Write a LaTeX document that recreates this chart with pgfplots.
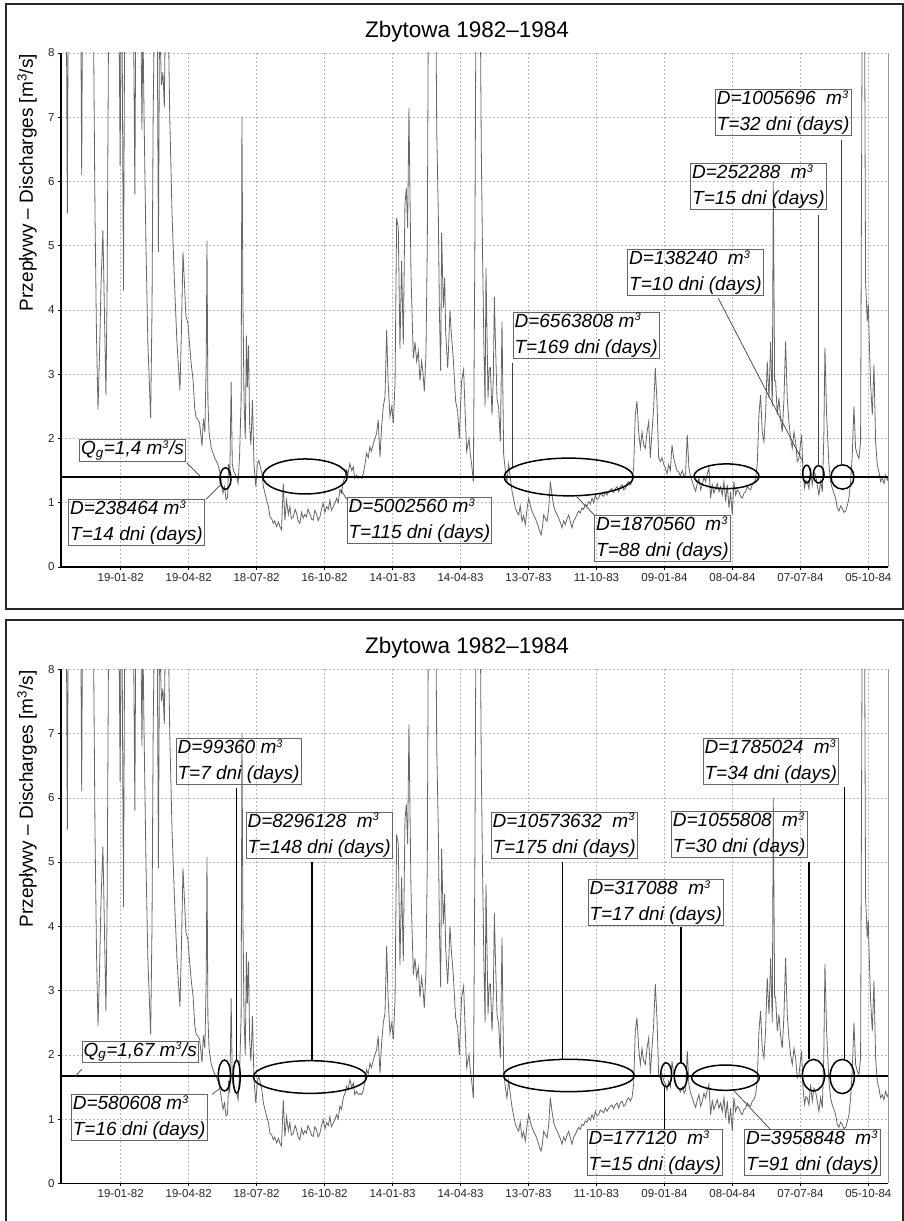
\documentclass[border=0pt]{standalone}
\usepackage{fontspec}
\setmainfont{Liberation Sans}
\usepackage{pgfplots}
\pgfplotsset{compat=1.18}
\usepackage{pgfplotstable}
\usetikzlibrary{shapes.geometric}

% Daily discharge, hydrological years 1982-1984 (day 0 = 1 Nov 1981), m3/s
\pgfplotstableread{
day q
0 12
3 10
7 9
8.4 5.5
9.6 9
14 11
20 10
26 9
27.4 6.1
28.6 9
34 12
40 10
43 8.5
45 5.5
47 3.6
49 2.45
51 3.3
53 4.4
55.5 5.24
57 4.3
59.5 2.68
61 4.2
63 8.5
68 11
75 9
77 8.4
78.3 6.25
79.5 8.6
81 8.2
82.7 4.3
84.5 9
90 11
96 8.6
97.8 5.8
99 8.6
103 10
106 8.3
107.2 6.8
108.4 8.5
110 7
112.5 5
115 3.5
118.7 2.32
120.5 4
122 7
124 9
127 9.5
129 4.9
130.5 8.6
133 7.5
135 7.7
136.8 7.15
138.5 9
141.5 9
144 7
147 5.5
150 4.5
153.5 3.5
157.5 2.75
159.5 3.7
161.5 4.9
163.5 4.4
165.5 3.9
168 3.8
170 3.5
172.5 3.15
175 2.9
177 2.47
179 2.32
181 2.3
183.5 2.24
186.7 1.88
188.5 2.3
190.5 2.1
192.3 3.2
193.3 5.08
194.5 2.6
196 2.1
199 1.85
203.4 1.7
207 1.62
210 1.5
212.3 1.33
214.5 1.15
216.5 1.25
218.5 1.05
220.5 1.08
222 1.6
223.5 1.4
225.3 2.88
226.8 1.6
228.5 1.5
230.5 1.45
233 1.38
234.5 1.3
236.5 1.75
238.5 2.6
239.6 7.0
240.8 4.3
242.3 2.6
244 2.0
245.5 3.6
246.8 2.8
248.3 3.45
249.8 2.2
251.5 1.9
253.5 2.6
255.5 1.6
258 1.25
260 1.6
262 1.66
264 1.56
266 1.45
268 1.25
270 1.15
272.3 1.04
274.5 0.95
276.7 0.78
279 0.75
281 0.68
283 0.72
285.5 0.63
288 0.70
290 0.62
292 0.58
294.3 1.3
296.5 0.73
298.7 1.04
301 0.82
303 0.94
305 0.75
307.5 0.78
310 0.9
312 0.83
314 0.72
316.3 0.68
318.5 0.85
320.7 0.76
323 0.82
325 0.78
327 0.9
329.5 0.83
332 0.74
334 0.73
336 0.88
338.3 0.83
340.5 0.72
342.8 0.78
345 0.9
347.2 0.99
349.5 0.85
351.6 0.94
354 0.9
356 1.04
358 0.88
360.5 0.94
363 1.0
364.9 1.07
367 1.0
369.3 1.2
371.5 1.15
373.7 1.33
376 1.4
378 1.51
380 1.45
382.5 1.61
385 1.5
387 1.56
389 1.38
391.3 1.43
393.5 1.38
395.7 1.4
398 1.38
400.2 1.45
402.5 1.6
404.6 1.77
406.8 1.7
409 1.87
411 1.8
413.5 1.92
415.7 2.0
417.9 2.08
420 2.29
422.4 1.71
424.6 2.2
426.8 2.5
429 2.65
431.2 3.69
433 2.9
435.6 2.34
438 2.5
440 2.24
442.3 2.86
444.4 5.43
446.6 5.28
448.8 3.4
451 4.76
453.2 3.46
455.4 5.64
457.2 5.9
459 5.28
460.7 7.14
463.4 4.55
466.5 3.25
468.7 3.5
470.9 3.2
473.1 3.36
475.3 2.9
477.5 3.2
479.5 3.0
481 2.73
483.2 3.3
485 5
486.5 9
491 11
495.2 9
496.5 8.5
497.5 6.78
499.6 5.48
501 4.0
502.7 3.05
504 5.2
506.2 4.03
508 4.5
509.3 3.67
512 3.1
513.5 3.5
515 4.0
517 3.6
519.4 3.25
521 2.9
522.5 2.58
525.2 2.42
527.4 2.0
529 2.5
530.5 2.9
533.1 3.07
534.9 2.47
537.1 1.8
540.2 2.0
542 1.75
543.7 1.6
546 1.33
548 5
549.5 9
553 10
555 9
556.5 6.5
558 5.0
560 3.4
561.5 2.5
562.7 4.65
565.4 2.63
567 3.1
568.5 3.1
570.7 2.37
572.5 3.0
573.8 4.2
575 3.6
577.3 2.63
579.5 2.47
581.7 1.95
583.9 3.82
586.1 1.75
588.3 1.5
590.5 1.33
592.7 1.6
595 1.38
597.2 1.18
599.4 1.05
601.6 0.92
604 0.85
606 0.81
608 0.95
610.4 0.71
612.5 0.8
614.8 0.66
617 0.9
619.2 1.07
621.5 0.95
623.6 0.87
626 0.8
628 0.76
630.5 0.68
632.5 0.61
634 0.55
635.6 0.5
637.5 0.62
639.1 0.81
641.5 0.75
643.5 0.71
645.7 0.9
647.9 1.33
650.1 1.12
652.3 0.95
654.5 0.87
656.7 0.82
658.9 0.76
661 0.7
663.4 0.61
665.6 0.72
667.8 0.66
670 0.75
672.2 0.81
674.4 0.7
676.6 0.61
678.8 0.72
681 0.76
683.2 0.82
685.4 0.87
687.6 0.84
689.8 0.92
692 0.9
694.2 0.97
696.5 0.95
698.7 1.02
701 0.98
703.1 1.07
705.3 1.0
707.5 1.12
709.7 1.05
711.9 1.07
714 1.14
716.3 1.12
718.5 1.1
720.7 1.17
722.9 1.12
725.1 1.17
727.3 1.2
729.5 1.22
731.7 1.16
733.9 1.22
736.2 1.25
738.4 1.17
740.6 1.25
742.8 1.28
745 1.2
747.2 1.22
749.4 1.3
751.6 1.33
753.8 1.28
756 1.33
758.2 1.54
760.4 2.37
762.6 2.58
764.9 2.1
767.1 1.85
769.3 2.1
771.5 1.9
773.7 1.85
775.9 2.1
778.1 2.26
780.3 1.7
782.5 2.1
784.7 2.47
786.9 3.1
789.1 2.58
791.3 1.7
793.6 1.64
795.8 1.7
798 1.6
800.2 1.54
802.4 1.45
804.6 1.59
806.8 1.5
809 1.9
811.2 1.7
813.4 1.59
815.6 1.5
817.8 1.48
820 1.42
822.6 1.5
825 1.4
827 1.45
829.2 2.06
831.4 1.54
833.6 1.4
835.9 1.33
838 1.25
840.3 1.18
842.5 1.3
844.7 1.38
847 1.2
849.1 1.28
851.3 1.4
853.5 1.33
855.7 1.45
857.9 1.54
860.1 1.07
862.3 1.28
864.5 1.15
866.7 1.22
869 1.3
871.2 1.17
873.4 1.25
875.6 1.12
877.8 1.33
880 1.02
882.2 1.28
884.4 0.92
886.6 1.17
888.8 0.81
891 1.33
893.2 1.12
895.4 1.2
897.6 1.17
899.8 1.1
902 1.07
904.3 1.15
906.5 1.17
908.7 1.25
910.9 1.22
913.1 1.2
915.3 1.28
917.5 1.3
919.7 1.38
921.9 1.6
924.1 2.37
926.3 2.68
928.5 2.1
930.7 1.95
932.9 2.37
935.1 3.2
937.4 2.63
939.6 3.5
941.8 2.5
943.1 6.0
944.9 2.9
946.2 2.89
948.4 2.37
950.6 2.63
952.8 2.3
955 2.1
957.2 2.6
959.4 3.51
961.6 2.63
963.8 2.26
966 2.0
968.2 1.85
970.5 2.1
972.7 1.95
974.9 1.64
977.1 1.69
979 1.9
980.6 2.06
982.4 1.48
984.6 1.23
986.3 1.35
988.1 1.33
990.3 1.22
992.5 1.54
994.7 1.28
996.9 1.48
999.1 1.43
1001.3 1.28
1003.5 1.12
1005.8 1.33
1008 1.17
1010 2.0
1011.5 3.41
1013.7 2.37
1016.8 1.59
1019 1.33
1021.2 1.22
1023.4 1.15
1025.6 1.07
1027.8 0.92
1030 0.87
1032.2 0.95
1034.4 0.92
1036.6 0.85
1038.9 0.87
1041 0.95
1043.3 1.07
1045.5 1.33
1047.7 1.75
1049.9 2.5
1052.1 1.85
1054.3 1.75
1056.5 1.69
1058.7 1.95
1060.9 9
1062.2 11
1064 8.5
1065.3 4.45
1067.5 3.82
1068.9 4.1
1069.8 3.67
1072 2.84
1074.2 2.37
1076.4 3.15
1078.6 1.95
1080.8 1.59
1083 1.48
1085.2 1.33
1087.4 1.38
1089.6 1.3
1091.8 1.43
1094 1.35
1095 1.38
}\flow

% small raised "3" as in m^3
\newcommand{\cub}{\textsuperscript{\fontsize{11}{11}\selectfont 3}}

\pgfplotsset{
  hydro/.style={
    scale only axis, width=827pt, height=514pt,
    xmin=0, xmax=1095, ymin=0, ymax=8,
    axis x line*=bottom, axis y line*=left,
    xtick={79,169,259,349,439,529,619,709,799,889,979,1069},
    xticklabels={19-01-82,19-04-82,18-07-82,16-10-82,14-01-83,14-04-83,13-07-83,11-10-83,09-01-84,08-04-84,07-07-84,05-10-84},
    ytick={0,1,...,8},
    tick align=outside, major tick length=3pt,
    tick style={black, line width=0.6pt},
    x axis line style={black, line width=1.2pt, -},
    y axis line style={black, line width=1.2pt, -},
    grid=major,
    major grid style={gray!55, line width=0.5pt, dash pattern=on 2pt off 2pt},
    ticklabel style={font=\fontsize{11.5}{13}\selectfont, text=black!85},
    /pgf/number format/assume math mode=true,
    clip mode=individual,
    every axis title/.style={at={(axis description cs:0.491,1.030)}, anchor=base,
      font=\fontsize{22.5}{27}\selectfont},
    every axis y label/.style={at={(axis description cs:-0.0411,0.748)}, rotate=90,
      anchor=center, font=\fontsize{19}{22}\selectfont},
    title={Zbytowa 1982–1984},
    ylabel={Przepływy – Discharges [m\textsuperscript{3}/s]},
  },
  flowline/.style={black!60, line width=0.8pt},
  qline/.style={black, line width=1.9pt},
}
\tikzset{
  box/.style={draw=black!60, line width=0.8pt, inner xsep=1.5pt, inner ysep=1pt,
    align=left, anchor=north west, font=\fontsize{19}{26}\selectfont\itshape},
  dry/.style={draw=black, ellipse, inner sep=0pt, line width=1.5pt},
  leadA/.style={black!75, line width=0.7pt},
  leadB/.style={black, line width=1.4pt},
}

\begin{document}
\begin{tikzpicture}
\path[fill=white, use as bounding box] (0pt,0pt) rectangle (904pt,1221pt);

% ---------- upper chart: threshold 1.4 m3/s ----------
\begin{axis}[hydro, at={(61pt,654pt)}, anchor=south west]
\addplot[flowline] table[x=day, y=q] {\flow};
\addplot[qline] coordinates {(0,1.4) (1095,1.4)};
\draw[gray!80, line width=0.6pt] (rel axis cs:1,0) -- (rel axis cs:1,1);

\node[dry, minimum width=11pt,    minimum height=21.6pt] at (axis cs:217.8,1.377) {};
\node[dry, minimum width=84.6pt,  minimum height=35pt]   at (axis cs:323.1,1.409) {};
\node[dry, minimum width=129.3pt, minimum height=37.7pt] at (axis cs:672.2,1.401) {};
\node[dry, minimum width=65pt,    minimum height=24.7pt] at (axis cs:881.2,1.412) {};
\node[dry, minimum width=8pt,     minimum height=17.7pt] at (axis cs:987.3,1.447) {};
\node[dry, minimum width=10.7pt,  minimum height=17.3pt] at (axis cs:1003.2,1.443) {};
\node[dry, minimum width=23pt,    minimum height=24.3pt] at (axis cs:1034.7,1.401) {};

\draw[leadA] (axis cs:166.4,1.623) -- (axis cs:184.0,1.416);
\draw[leadA] (axis cs:192.0,1.054) -- (axis cs:211.8,1.287);
\draw[leadA] (axis cs:378.3,1.054) -- (axis cs:370.3,1.209);
\draw[leadA] (axis cs:598.1,3.17) -- (axis cs:598.1,1.55);
\draw[leadA] (axis cs:706.1,0.809) -- (axis cs:682.8,1.094);
\draw[leadA] (axis cs:870.3,4.182) -- (axis cs:982.5,1.634);
\draw[leadA] (axis cs:1003.2,5.479) -- (axis cs:1003.2,1.577);
\draw[leadA] (axis cs:1032.8,6.646) -- (axis cs:1032.8,1.588);

\node[box] at (axis cs:24.2,1.988) {Q\textsubscript{g}=1,4 m\cub/s};
\node[box] at (axis cs:9.7,1.054) {D=238464 m\cub\\T=14 dni (days)};
\node[box] at (axis cs:378.3,1.085) {D=5002560 m\cub\\T=115 dni (days)};
\node[box] at (axis cs:598.1,3.974) {D=6563808 m\cub\\T=169 dni (days)};
\node[box] at (axis cs:706.1,0.809) {D=1870560\ \ m\cub\\T=88 dni (days)};
\node[box] at (axis cs:749.8,4.945) {D=138240\ \ m\cub\\T=10 dni (days)};
\node[box] at (axis cs:833.2,6.283) {D=252288\ \ m\cub\\T=15 dni (days)};
\node[box] at (axis cs:865.9,7.435) {D=1005696\ \ m\cub\\T=32 dni (days)};
\end{axis}

% ---------- lower chart: threshold 1.67 m3/s ----------
\begin{axis}[hydro, at={(61pt,37.7pt)}, anchor=south west]
\addplot[flowline] table[x=day, y=q] {\flow};
\addplot[qline] coordinates {(0,1.67) (1095,1.67)};
\draw[gray!80, line width=0.6pt] (rel axis cs:1,0) -- (rel axis cs:1,1);

\node[dry, minimum width=12.3pt,  minimum height=31pt]   at (axis cs:216.5,1.678) {};
\node[dry, minimum width=7pt,     minimum height=33pt]   at (axis cs:232.6,1.659) {};
\node[dry, minimum width=113.3pt, minimum height=32.7pt] at (axis cs:329.7,1.654) {};
\node[dry, minimum width=131pt,   minimum height=32.3pt] at (axis cs:672.4,1.678) {};
\node[dry, minimum width=11pt,    minimum height=24pt]   at (axis cs:801.3,1.690) {};
\node[dry, minimum width=13pt,    minimum height=26.7pt] at (axis cs:820.6,1.670) {};
\node[dry, minimum width=67.7pt,  minimum height=25.3pt] at (axis cs:879.8,1.644) {};
\node[dry, minimum width=22.3pt,  minimum height=31.7pt] at (axis cs:996.4,1.682) {};
\node[dry, minimum width=24.3pt,  minimum height=34.3pt] at (axis cs:1034.4,1.662) {};

\draw[leadA] (axis cs:27.4,1.774) -- (axis cs:18.5,1.659);
\draw[leadA] (axis cs:200.3,1.385) -- (axis cs:210.5,1.479);
\draw[leadB] (axis cs:232.6,6.148) -- (axis cs:232.6,1.919);
\draw[leadB] (axis cs:332.3,4.996) -- (axis cs:332.3,1.908);
\draw[leadB] (axis cs:664.3,4.996) -- (axis cs:664.3,1.930);
\draw[leadB] (axis cs:820.9,3.994) -- (axis cs:820.9,1.877);
\draw[leadB] (axis cs:990.4,4.996) -- (axis cs:990.4,1.930);
\draw[leadB] (axis cs:1037.6,6.173) -- (axis cs:1037.6,1.930);
\draw[leadB] (axis cs:798.8,0.840) -- (axis cs:798.8,1.504);
\draw[leadA] (axis cs:938.7,0.845) -- (axis cs:890.2,1.452);

\node[box] at (axis cs:27.4,2.219) {Q\textsubscript{g}=1,67 m\cub/s};
\node[box] at (axis cs:13.2,1.385) {D=580608 m\cub\\T=16 dni (days)};
\node[box] at (axis cs:151.9,6.926) {D=99360 m\cub\\T=7 dni (days)};
\node[box] at (axis cs:244.5,5.784) {D=8296128\ \ m\cub\\T=148 dni (days)};
\node[box] at (axis cs:568.9,5.784) {D=10573632\ \ m\cub\\T=175 dni (days)};
\node[box] at (axis cs:697.3,4.732) {D=317088\ \ m\cub\\T=17 dni (days)};
\node[box] at (axis cs:807.7,5.790) {D=1055808\ \ m\cub\\T=30 dni (days)};
\node[box] at (axis cs:849.6,6.926) {D=1785024\ \ m\cub\\T=34 dni (days)};
\node[box] at (axis cs:696.0,0.840) {D=177120\ \ m\cub\\T=15 dni (days)};
\node[box] at (axis cs:904.7,0.845) {D=3958848\ \ m\cub\\T=91 dni (days)};
\end{axis}

% panel frames
\draw[black!85, line width=2pt] (6pt,611.7pt) rectangle (903pt,1216.7pt);
\draw[black!85, line width=2pt] (6pt,-5pt) rectangle (903pt,601pt);
\end{tikzpicture}
\end{document}
